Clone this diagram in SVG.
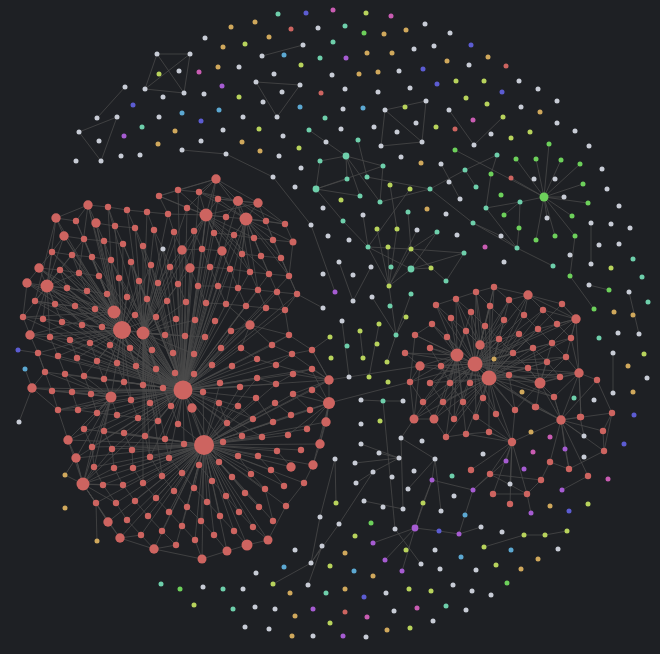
<svg xmlns="http://www.w3.org/2000/svg" width="660" height="654" viewBox="0 0 660 654">
<style>
.e{fill:none;stroke:#4b4b4b;stroke-width:.75}
.r circle{fill:#cd6460}.w circle{fill:#c8ccd6}.t circle{fill:#6ecfab}.g circle{fill:#6dd05b}.y circle{fill:#b8d35c}.o circle{fill:#d0a85c}.b circle{fill:#5c5cd2}.p circle{fill:#a65cd2}.m circle{fill:#c95cb2}.l circle{fill:#5ca8d2}
.s circle{r:2.5px}
</style>
<rect width="660" height="654" fill="#1e2024"/>
<g id="connectors" class="e">
<path d="M183 390L216 179M183 390L178 190M183 390L199 192M183 390L218 199M183 390L238 201M183 390L206 215M183 390L226 217M183 390L246 219M183 390L187 208M183 390L174 232M183 390L194 231M183 390L214 233M183 390L234 235M183 390L154 230M183 390L135 228M183 390L182 250M183 390L202 249M183 390L222 251M183 390L163 249M183 390L143 246M183 390L123 244M183 390L170 267M183 390L190 268M183 390L210 267M183 390L230 269M183 390L151 265M183 390L131 262M183 390L111 260M183 390L92 257M183 390L158 283M183 390L178 284M183 390L198 286M183 390L218 286M183 390L139 281M183 390L119 278M183 390L99 276M183 390L79 273M183 390L60 270M183 390L39 268M183 390L147 299M183 390L167 301M183 390L186 302M183 390L206 303M183 390L226 304M183 390L127 297M183 390L107 294M183 390L87 291M183 390L67 288M183 390L47 286M183 390L27 283M183 390L135 315M183 390L156 317M183 390L176 319M183 390L195 320M183 390L215 321M183 390L114 312M183 390L95 309M183 390L75 306M183 390L55 304M183 390L35 301M183 390L23 317M183 390L43 319M183 390L62 322M183 390L82 325M183 390L102 327M183 390L122 330M183 390L143 333M183 390L165 335M183 390L185 336M183 390L205 337M183 390L231 331M183 390L250 325M183 390L30 335M183 390L50 337M183 390L70 340M183 390L90 343M183 390L110 345M183 390L130 348M183 390L152 350M183 390L173 353M183 390L194 354M183 390L221 348M183 390L241 348M183 390L38 353M183 390L58 356M183 390L77 358M183 390L97 361M183 390L117 363M183 390L136 366M183 390L156 369M183 390L212 365M183 390L232 366M183 390L45 372M183 390L65 374M183 390L84 376M183 390L104 379M183 390L124 382M183 390L143 385M183 390L163 388M183 390L175 373M183 390L194 374M183 390L220 383M183 390L240 387M183 390L257 378M183 390L276 384M183 390L32 388M183 390L52 391M183 390L72 392M183 390L91 394M183 390L111 397M183 390L131 400M183 390L150 403M183 390L171 406M183 390L203 392M183 390L219 403M183 390L238 406M183 390L256 398M183 390L58 410M183 390L78 410M183 390L97 413M183 390L117 415M183 390L138 418M183 390L158 421M183 390L178 424M183 390L192 408M183 390L227 423M183 390L253 419M183 390L104 431M183 390L124 433M183 390L145 436M183 390L165 439M183 390L184 444M183 390L223 442M183 390L242 436M183 390L262 437M183 390L68 440M183 390L92 447M183 390L112 449M183 390L132 450M183 390L150 457M183 390L169 458M183 390L199 465M183 390L219 462M183 390L83 484M183 390L76 458M183 390L266 308M183 390L285 310M183 390L246 306M183 390L258 290M183 390L277 292M183 390L297 294M183 390L269 274M183 390L289 276M183 390L250 272M183 390L293 374M183 390L312 369M183 390L329 380M183 390L289 335M183 390L272 345M183 390L257 359M183 390L292 354M183 390L276 365"/>
<path d="M204 445L183 390M204 445L192 408M204 445L178 424M204 445L184 444M204 445L165 439M204 445L169 458M204 445L150 457M204 445L162 476M204 445L182 473M204 445L199 465M204 445L219 462M204 445L223 442M204 445L227 423M204 445L219 403M204 445L203 392M204 445L238 406M204 445L242 436M204 445L238 456M204 445L258 456M204 445L262 437M204 445L253 419M204 445L273 422M204 445L277 451M204 445L288 435M204 445L307 429M204 445L301 450M204 445L291 467M204 445L313 465M204 445L320 444M204 445L326 422M204 445L304 483M204 445L284 486M204 445L265 489M204 445L271 470M204 445L251 474M204 445L245 493M204 445L232 477M204 445L226 496M204 445L212 481M204 445L207 502M204 445L194 488M204 445L174 491M204 445L187 507M204 445L169 512M204 445L182 526M204 445L201 521M204 445L220 516M204 445L239 512M204 445L259 507M204 445L286 506M204 445L273 521M204 445L253 527M204 445L234 531M204 445L214 535M204 445L195 540M204 445L176 545M204 445L162 531M204 445L154 549M204 445L202 559M204 445L227 551M204 445L247 545M204 445L268 540M204 445L148 516M204 445L156 498M204 445L135 501M204 445L143 483M204 445L133 468M204 445L114 468M204 445L123 485M204 445L103 485M204 445L83 484M204 445L94 467M204 445L112 449M204 445L132 450M204 445L145 436M204 445L124 433M204 445L108 522M204 445L127 520M204 445L141 535M204 445L120 538M204 445L116 503M204 445L96 503M204 445L76 458M204 445L92 447M204 445L68 440M204 445L104 431M204 445L84 429M204 445L256 398M204 445L275 403M204 445L291 415M204 445L310 410M204 445L329 403M204 445L312 390M204 445L293 394M204 445L329 380M204 445L240 387M204 445L220 383M204 445L257 378M204 445L276 384"/>
<path d="M122 330L47 286M122 330L67 288M122 330L87 291M122 330L107 294M122 330L127 297M122 330L147 299M122 330L99 276M122 330L119 278M122 330L139 281M122 330L79 273M122 330L60 270M122 330L39 268M122 330L27 283M122 330L35 301M122 330L55 304M122 330L75 306M122 330L95 309M122 330L114 312M122 330L135 315M122 330L156 317M122 330L43 319M122 330L62 322M122 330L82 325M122 330L102 327M122 330L143 333M122 330L165 335M122 330L30 335M122 330L50 337M122 330L70 340M122 330L90 343M122 330L110 345M122 330L130 348M122 330L152 350M122 330L38 353M122 330L58 356M122 330L77 358M122 330L97 361M122 330L117 363M122 330L136 366M122 330L84 376M122 330L104 379M122 330L124 382M122 330L143 385M122 330L111 397M122 330L131 400M122 330L92 257M122 330L111 260M122 330L131 262M122 330L151 265M122 330L123 244M122 330L104 241M122 330L84 239M122 330L64 236M122 330L52 252M122 330L72 255M122 330L96 223M122 330L88 205M122 330L56 218M122 330L115 226"/>
<path d="M143 333L206 215M143 333L187 208M143 333L168 214M143 333L147 212M143 333L127 210M143 333L108 207M143 333L135 228M143 333L154 230M143 333L174 232M143 333L143 246M143 333L163 249M143 333L182 250M143 333L131 262M143 333L151 265M143 333L170 267M143 333L190 268M143 333L139 281M143 333L158 283M143 333L178 284M143 333L147 299M143 333L167 301M143 333L186 302M143 333L156 317M143 333L176 319M143 333L195 320M143 333L165 335M143 333L185 336M143 333L205 337M143 333L152 350M143 333L173 353M143 333L194 354M143 333L136 366M143 333L156 369M143 333L143 385M143 333L163 388M143 333L150 403M143 333L171 406M143 333L158 421M143 333L145 436M143 333L165 439M143 333L150 457M143 333L162 476M143 333L143 483"/>
<path d="M114 312L108 207M114 312L88 205M114 312L76 221M114 312L96 223M114 312L104 241M114 312L84 239M114 312L64 236M114 312L92 257M114 312L72 255M114 312L52 252M114 312L99 276M114 312L79 273M114 312L60 270M114 312L39 268M114 312L27 283M114 312L47 286M114 312L23 317M114 312L30 335M114 312L35 301M47 286L27 283M47 286L39 268M47 286L64 236M47 286L56 218M47 286L52 252M47 286L60 270M47 286L67 288M47 286L35 301M47 286L55 304M47 286L23 317M47 286L30 335M47 286L43 319M47 286L75 306M47 286L72 255M47 286L84 239M47 286L79 273M47 286L87 291M47 286L62 322M47 286L50 337"/>
<path d="M206 215L216 179M206 215L178 190M206 215L199 192M206 215L218 199M206 215L258 203M206 215L226 217M206 215L266 221M206 215L254 238M206 215L234 235M206 215L214 233M206 215L194 231M206 215L242 254M206 215L222 251M206 215L202 249M206 215L230 269M206 215L250 272M206 215L269 274M206 215L159 196M206 215L168 214M246 219L216 179M246 219L238 201M246 219L258 203M246 219L285 224M246 219L266 221M246 219L273 240M246 219L293 242M246 219L254 238M246 219L234 235M246 219L261 256M246 219L281 258M246 219L242 254M246 219L222 251M246 219L289 276M246 219L269 274M246 219L199 192M246 219L218 199M238 201L199 192M238 201L218 199M238 201L258 203M238 201L226 217M238 201L266 221M238 201L285 224"/>
<path d="M111 397L32 388M111 397L52 391M111 397L72 392M111 397L91 394M111 397L58 410M111 397L78 410M111 397L97 413M111 397L117 415M111 397L84 429M111 397L104 431M111 397L68 440M111 397L92 447M111 397L76 458M111 397L94 467M111 397L83 484M111 397L45 372M111 397L65 374M111 397L84 376M111 397L104 379M111 397L124 382M83 484L68 440M83 484L76 458M83 484L94 467M83 484L114 468M83 484L103 485M83 484L123 485M83 484L96 503M83 484L116 503M83 484L108 522M83 484L120 538M83 484L65 475M83 484L92 447M83 484L112 449M329 403L312 371M329 403L312 390M329 403L310 410M329 403L326 422M329 403L293 394M329 403L307 429M329 403L313 465M329 403L320 444M329 403L291 415M329 403L288 435M329 380L312 350M329 380L312 369M329 380L293 374M329 380L292 354M329 380L276 365M329 380L312 390M329 380L293 394"/>
<path d="M216 179L178 190M216 179L199 192M216 179L238 201M216 179L258 203M216 179L159 196M159 196L178 190M159 196L168 214M159 196L187 208M178 190L199 192M199 192L218 199M218 199L238 201M238 201L258 203M258 203L285 224M285 224L293 242M293 242L289 276M289 276L297 294M297 294L285 310M88 205L108 207M108 207L127 210M127 210L147 212M147 212L168 214M88 205L56 218M56 218L64 236M64 236L52 252M52 252L39 268M39 268L27 283M27 283L23 317M23 317L30 335M30 335L38 353M38 353L45 372M45 372L32 388M32 388L58 410M58 410L68 440M68 440L76 458M76 458L83 484M83 484L96 503M96 503L108 522M108 522L120 538M120 538L154 549M154 549L202 559M202 559L227 551M227 551L247 545M247 545L268 540M268 540L286 506M286 506L304 483M304 483L313 465M313 465L320 444M320 444L326 422M326 422L329 403M329 403L329 380M329 380L312 350M312 350L289 335M289 335L285 310M88 205L76 221M88 205L96 223M96 223L115 226M115 226L135 228M56 218L76 221M76 221L84 239M84 239L104 241M104 241L123 244M64 236L84 239M52 252L72 255M72 255L92 257M92 257L111 260M39 268L60 270M60 270L79 273M79 273L99 276M67 288L87 291M87 291L107 294M35 301L55 304M55 304L75 306M23 317L43 319M43 319L62 322M30 335L50 337M50 337L70 340M206 215L187 208M214 233L234 235M234 235L254 238M254 238L273 240M273 240L293 242M242 254L261 256M261 256L281 258M182 250L202 249M202 249L222 251M190 268L210 267M210 267L230 269M230 269L250 272M250 272L269 274M269 274L289 276M198 286L218 286M218 286L238 288M238 288L258 290M258 290L277 292M277 292L297 294M206 303L226 304M226 304L246 306M246 306L266 308M266 308L285 310M250 325L231 331M250 325L266 308M250 325L272 345M241 348L257 359M257 359L276 365M276 365L292 354M292 354L312 350M312 369L293 374M293 374L276 384M276 384L257 378M231 331L221 348M250 325L241 348M250 325L226 304M250 325L289 335M272 345L289 335M272 345L292 354M281 258L297 294M266 221L285 224M266 221L273 240M154 549L176 545M120 538L141 535M96 503L97 541M76 458L65 475M32 388L19 422M38 353L18 350M32 388L25 369"/>
<path d="M108 207L115 226M127 210L135 228M147 212L154 230M168 214L174 232M96 223L104 241M115 226L123 244M135 228L143 246M154 230L163 249M174 232L182 250M194 231L202 249M214 233L222 251M234 235L242 254M254 238L261 256M273 240L281 258M84 239L92 257M104 241L111 260M123 244L131 262M143 246L151 265M163 249L170 267M182 250L190 268M202 249L210 267M222 251L230 269M242 254L250 272M261 256L269 274M281 258L289 276M72 255L79 273M92 257L99 276M111 260L119 278M131 262L139 281M151 265L158 283M170 267L178 284M190 268L198 286M210 267L218 286M230 269L238 288M250 272L258 290M269 274L277 292M60 270L67 288M79 273L87 291M99 276L107 294M119 278L127 297M139 281L147 299M158 283L167 301M178 284L186 302M198 286L206 303M218 286L226 304M238 288L246 306M258 290L266 308M277 292L285 310M246 219L238 288M246 219L258 290M246 219L226 304M206 215L178 284M206 215L198 286M206 215L158 283M238 201L250 272M258 203L289 276M216 179L187 208M88 205L79 273M56 218L35 301M47 286L82 325M84 429L92 447M104 431L112 449M124 433L132 450M145 436L150 457M165 439L169 458M92 447L94 467M112 449L114 468M132 450L133 468M150 457L162 476M169 458L182 473M199 465L212 481M219 462L232 477M238 456L251 474M258 456L271 470M277 451L291 467M94 467L103 485M114 468L123 485M133 468L143 483M162 476L174 491M182 473L194 488M212 481L226 496M232 477L245 493M251 474L265 489M271 470L284 486M103 485L116 503M123 485L135 501M143 483L156 498M174 491L187 507M194 488L207 502M226 496L239 512M245 493L259 507M265 489L273 521M116 503L127 520M135 501L148 516M156 498L169 512M187 507L201 521M207 502L220 516M239 512L253 527M127 520L141 535M148 516L162 531M169 512L182 526M201 521L214 535M220 516L234 531M253 527L268 540M141 535L154 549M182 526L195 540M214 535L227 551M234 531L247 545M195 540L202 559M162 531L176 545M58 410L78 410M78 410L97 413M97 413L117 415M117 415L138 418M138 418L158 421M52 391L58 410M72 392L78 410M91 394L97 413M131 400L138 418M150 403L158 421M171 406L178 424M219 403L227 423M238 406L253 419M256 398L273 422M275 403L291 415M293 394L310 410M45 372L52 391M65 374L72 392M84 376L91 394M104 379L111 397M124 382L131 400M143 385L150 403M163 388L171 406M38 353L45 372M58 356L65 374M77 358L84 376M97 361L104 379M117 363L124 382M136 366L143 385M156 369L163 388M50 337L58 356M70 340L77 358M90 343L97 361M110 345L117 363M130 348L136 366M152 350L156 369"/>
<path d="M475 364L476 292M475 364L494 287M475 364L456 299M475 364L436 305M475 364L528 295M475 364L509 300M475 364L471 312M475 364L490 306M475 364L543 310M475 364L524 315M475 364L451 318M475 364L504 320M475 364L432 324M475 364L485 326M475 364L538 329M475 364L557 324M475 364L415 335M475 364L466 331M475 364L519 334M475 364L447 337M475 364L499 339M475 364L571 338M475 364L480 345M475 364L552 343M475 364L430 348M475 364L533 348M475 364L457 355M475 364L513 353M475 364L566 357M475 364L420 366M475 364L547 362M475 364L441 366M475 364L528 368M475 364L489 378M475 364L509 375M475 364L579 373M475 364L410 382M475 364L430 383M475 364L450 383M475 364L470 383M475 364L540 383M475 364L560 377M475 364L483 398M475 364L443 402M475 364L463 402M475 364L423 402M475 364L554 397M475 364L536 407M475 364L515 410M475 364L414 419M475 364L434 419M475 364L454 419M475 364L476 417M475 364L496 414M475 364L405 353M475 364L576 319"/>
<path d="M489 378L476 292M489 378L494 287M489 378L528 295M489 378L509 300M489 378L562 304M489 378L490 306M489 378L543 310M489 378L524 315M489 378L504 320M489 378L485 326M489 378L538 329M489 378L519 334M489 378L499 339M489 378L571 338M489 378L480 345M489 378L552 343M489 378L533 348M489 378L513 353M489 378L566 357M489 378L547 362M489 378L528 368M489 378L509 375M489 378L579 373M489 378L540 383M489 378L560 377M489 378L483 398M489 378L463 402M489 378L554 397M489 378L536 407M489 378L515 410M489 378L454 419M489 378L476 417M489 378L496 414M489 378L489 432M489 378L466 434M489 378L446 437M489 378L512 442M489 378L561 420M489 378L443 402M489 378L470 383M489 378L450 383M489 378L430 383M489 378L441 366M489 378L420 366M489 378L434 419M489 378L414 419"/>
<path d="M457 355L436 305M457 355L456 299M457 355L471 312M457 355L451 318M457 355L432 324M457 355L466 331M457 355L447 337M457 355L415 335M457 355L430 348M457 355L405 353M457 355L420 366M457 355L441 366M457 355L410 382M457 355L430 383M457 355L450 383M457 355L470 383M457 355L423 402M457 355L443 402M457 355L463 402M457 355L414 419M457 355L434 419M457 355L454 419M457 355L446 437M457 355L466 434M480 345L476 292M480 345L494 287M480 345L456 299M480 345L471 312M480 345L490 306M480 345L509 300M480 345L504 320M480 345L485 326M480 345L466 331M480 345L499 339M480 345L519 334M480 345L513 353"/>
<path d="M540 383L509 375M540 383L528 368M540 383L547 362M540 383L560 377M540 383L579 373M540 383L554 397M540 383L536 407M540 383L515 410M540 383L561 420M540 383L566 357M540 383L552 343M540 383L533 348M576 319L528 295M576 319L562 304M576 319L543 310M576 319L557 324M576 319L571 338M576 319L552 343M576 319L566 357M576 319L538 329M576 319L579 373M579 373L566 357M579 373L571 338M579 373L560 377M579 373L554 397M579 373L561 420M579 373L581 417M579 373L597 380M561 420L580 417M561 420L612 413M561 420L603 431M561 420L569 469M561 420L588 476M561 420L550 462M561 420L565 449M561 420L535 407M561 420L584 436M561 420L554 397M561 420L536 407M561 420L604 451M561 420L597 380M512 442L515 410M512 442L471 470M512 442L490 474M512 442L493 494M512 442L510 484M512 442L527 494M512 442L510 504M512 442L506 461M512 442L496 414M512 442L488 432M512 442L466 434M512 442L476 417M436 305L476 292M476 292L494 287M494 287L528 295M528 295L562 304M562 304L576 319M432 324L415 335M415 335L410 382M410 382L414 419M414 419L434 419M434 419L446 437M446 437L466 434M466 434L489 432M489 432L512 442M512 442L561 420M581 417L579 373M420 366L414 419M420 366L410 382M528 295L509 300M528 295L543 310M528 295L524 315M597 380L612 413M580 417L584 436M603 431L604 451M612 413L603 431M604 451L612 413M604 451L569 469M588 476L562 490M569 469L565 449M541 480L490 474M550 462L541 480M527 494L541 480M550 462L569 469M493 494L527 494M527 494L531 513M490 474L527 494M473 490L490 474M473 490L506 461M414 419L401 438M420 366L405 353M329 380L420 366M312 350L330 337M329 403L410 382M297 294L323 308"/>
<path d="M436 305L451 318M456 299L471 312M476 292L490 306M494 287L509 300M509 300L524 315M543 310L557 324M451 318L466 331M471 312L485 326M490 306L504 320M524 315L538 329M432 324L447 337M466 331L480 345M485 326L499 339M519 334L533 348M538 329L552 343M557 324L571 338M447 337L457 355M499 339L513 353M533 348L547 362M552 343L566 357M430 348L441 366M513 353L528 368M547 362L560 377M441 366L450 383M528 368L540 383M410 382L423 402M430 383L443 402M450 383L463 402M470 383L483 398M509 375L515 410M423 402L434 419M443 402L454 419M463 402L476 417M483 398L496 414M554 397L561 420"/>
<path d="M157 54L190 54M157 54L145 89M157 54L184 93M190 54L145 89M190 54L184 93M145 89L184 93M125 87L97 118M117 117L79 132M117 117L101 161M79 132L101 161M262 56L303 45M256 82L300 85M256 82L277 117M300 85L277 117M182 150L226 154M226 154L273 177M273 177L311 225M311 225L335 292M309 130L326 142M326 142L346 156M320 161L316 189M346 156L320 161M346 156L383 166M346 156L347 179M346 156L360 196M346 156L380 202M316 189L347 179M316 189L383 166M316 189L360 196M316 189L343 221M358 140L367 177M367 177L430 189M383 166L380 202M380 202L430 189M390 185L397 229M410 189L368 247M430 189L465 170M465 170L497 155M465 170L476 187M430 189L473 223M473 223L501 236M441 164L460 199M497 155L491 174M491 174L486 208M486 208L520 202M486 208L517 248M520 202L519 228M519 228L517 248M504 215L520 202M520 202L544 197M511 178L544 197M455 150L544 197M385 110L426 101M385 110L381 146M385 110L422 142M426 101L422 142M381 146L422 142M449 110L474 145M503 117L474 145M544 197L549 144M544 197L536 159M544 197L561 160M544 197L580 164M544 197L583 184M544 197L588 203M544 197L572 216M544 197L564 197M544 197L547 218M544 197L555 236M544 197L536 240M544 197L575 236M544 197L516 159"/>
<path d="M411 249L408 212M411 249L437 232M411 249L464 253M411 249L446 281M411 249L389 286M411 249L431 268M411 249L368 247M389 286L377 229M389 286L397 229M389 286L368 247M343 221L368 247M363 215L368 247M368 247L411 269M388 247L389 286M417 230L389 286M437 232L411 269M464 253L446 281M464 253L411 269M431 268L411 269M411 269L389 286M339 262L353 301M371 267L353 301M389 286L396 335M396 335L406 317M396 335L387 362M396 335L411 294M372 297L396 335M342 321L349 377M379 324L369 377M360 331L363 358M553 266L517 248M517 248L501 236M570 276L575 236M570 276L594 309M589 285L609 290M591 223L591 264M629 292L639 334M613 353L613 393M473 223L517 248M432 480L473 490M432 480L415 528M432 480L435 459M435 459L441 511M435 459L408 489M401 438L435 459M401 438L403 509M379 453L399 458M355 463L399 458M373 472L399 458M356 483L373 472M364 501L403 509M361 444L399 458M335 459L336 503M383 401L395 529M339 524L373 472M395 529L421 564M415 528L373 543M415 528L385 560M415 528L402 571M415 528L439 531M439 531L459 534M459 534L481 527M459 534L465 515M465 515L473 490M415 528L423 503M423 503L432 480M484 547L524 535M524 535L545 535M545 535L567 531M273 584L311 563M311 563L322 546M320 517L311 563M335 459L320 517M339 524L311 563M322 546L308 585M361 400L383 401M383 401L403 401"/>
</g>
<g id="cluster-left" class="r">
<circle id="L1" cx="216" cy="179" r="4.7"/><circle id="L2" cx="159" cy="196" r="3.2"/><circle id="L3" cx="178" cy="190" r="3.2"/><circle id="L4" cx="199" cy="192" r="3.2"/><circle id="L5" cx="218" cy="199" r="3.2"/><circle id="L6" cx="238" cy="201" r="5"/><circle id="L7" cx="258" cy="203" r="4.7"/><circle id="L8" cx="88" cy="205" r="4.7"/><circle id="L9" cx="108" cy="207" r="3.2"/><circle id="L10" cx="127" cy="210" r="3.2"/><circle id="L11" cx="147" cy="212" r="3.2"/><circle id="L12" cx="168" cy="214" r="3.2"/><circle id="L13" cx="187" cy="208" r="3.2"/><circle id="L14" cx="206" cy="215" r="6.5"/><circle id="L15" cx="226" cy="217" r="3.2"/><circle id="L16" cx="246" cy="219" r="6.5"/><circle id="L17" cx="266" cy="221" r="3.2"/><circle id="L18" cx="285" cy="224" r="3.2"/>
<circle id="L19" cx="56" cy="218" r="4.7"/><circle id="L20" cx="76" cy="221" r="3.2"/><circle id="L21" cx="96" cy="223" r="4.7"/><circle id="L22" cx="115" cy="226" r="3.2"/><circle id="L23" cx="135" cy="228" r="3.2"/><circle id="L24" cx="154" cy="230" r="3.2"/><circle id="L25" cx="174" cy="232" r="3.2"/><circle id="L26" cx="194" cy="231" r="3.2"/><circle id="L27" cx="214" cy="233" r="3.2"/><circle id="L28" cx="234" cy="235" r="3.2"/><circle id="L29" cx="254" cy="238" r="3.2"/><circle id="L30" cx="273" cy="240" r="3.2"/><circle id="L31" cx="293" cy="242" r="3.5"/>
<circle id="L32" cx="64" cy="236" r="4.7"/><circle id="L33" cx="84" cy="239" r="3.2"/><circle id="L34" cx="104" cy="241" r="3.2"/><circle id="L35" cx="123" cy="244" r="3.2"/><circle id="L36" cx="143" cy="246" r="3.2"/><circle id="L37" cx="182" cy="250" r="4.7"/><circle id="L38" cx="202" cy="249" r="3.2"/><circle id="L39" cx="222" cy="251" r="4.7"/><circle id="L40" cx="242" cy="254" r="3.2"/><circle id="L41" cx="261" cy="256" r="3.2"/><circle id="L42" cx="281" cy="258" r="3.2"/>
<circle id="L43" cx="52" cy="252" r="3.2"/><circle id="L44" cx="72" cy="255" r="3.2"/><circle id="L45" cx="92" cy="257" r="3.2"/><circle id="L46" cx="111" cy="260" r="3.2"/><circle id="L47" cx="131" cy="262" r="3.2"/><circle id="L48" cx="151" cy="265" r="3.2"/><circle id="L49" cx="170" cy="267" r="3.2"/><circle id="L50" cx="190" cy="268" r="4.7"/><circle id="L51" cx="210" cy="267" r="3.2"/><circle id="L52" cx="230" cy="269" r="3.2"/><circle id="L53" cx="250" cy="272" r="3.2"/><circle id="L54" cx="269" cy="274" r="3.2"/><circle id="L55" cx="289" cy="276" r="3.2"/>
<circle id="L56" cx="39" cy="268" r="4.7"/><circle id="L57" cx="60" cy="270" r="3.2"/><circle id="L58" cx="79" cy="273" r="3.2"/><circle id="L59" cx="99" cy="276" r="3.2"/><circle id="L60" cx="119" cy="278" r="3.2"/><circle id="L61" cx="139" cy="281" r="3.2"/><circle id="L62" cx="158" cy="283" r="3.2"/><circle id="L63" cx="178" cy="284" r="3.2"/><circle id="L64" cx="198" cy="286" r="3.2"/><circle id="L65" cx="218" cy="286" r="3.2"/><circle id="L66" cx="238" cy="288" r="3.2"/><circle id="L67" cx="258" cy="290" r="3.2"/><circle id="L68" cx="277" cy="292" r="3.2"/><circle id="L69" cx="297" cy="294" r="3.2"/>
<circle id="L70" cx="27" cy="283" r="4.7"/><circle id="L71" cx="47" cy="286" r="6.5"/><circle id="L72" cx="67" cy="288" r="3.2"/><circle id="L73" cx="87" cy="291" r="3.2"/><circle id="L74" cx="107" cy="294" r="3.2"/><circle id="L75" cx="127" cy="297" r="3.2"/><circle id="L76" cx="147" cy="299" r="3.2"/><circle id="L77" cx="167" cy="301" r="3.2"/><circle id="L78" cx="186" cy="302" r="3.2"/><circle id="L79" cx="206" cy="303" r="3.2"/><circle id="L80" cx="226" cy="304" r="3.2"/><circle id="L81" cx="246" cy="306" r="3.2"/><circle id="L82" cx="266" cy="308" r="3.2"/><circle id="L83" cx="285" cy="310" r="3.2"/>
<circle id="L84" cx="35" cy="301" r="3.2"/><circle id="L85" cx="55" cy="304" r="3.2"/><circle id="L86" cx="75" cy="306" r="3.2"/><circle id="L87" cx="95" cy="309" r="3.2"/><circle id="L88" cx="114" cy="312" r="6.5"/><circle id="L89" cx="135" cy="315" r="3.2"/><circle id="L90" cx="156" cy="317" r="3.2"/><circle id="L91" cx="176" cy="319" r="3.2"/><circle id="L92" cx="195" cy="320" r="3.2"/><circle id="L93" cx="215" cy="321" r="3.2"/><circle id="L94" cx="250" cy="325" r="4.7"/>
<circle id="L95" cx="23" cy="317" r="3.2"/><circle id="L96" cx="43" cy="319" r="3.2"/><circle id="L97" cx="62" cy="322" r="3.2"/><circle id="L98" cx="82" cy="325" r="3.2"/><circle id="L99" cx="102" cy="327" r="3.2"/><circle id="L100" cx="122" cy="330" r="9"/><circle id="L101" cx="143" cy="333" r="6.5"/><circle id="L102" cx="165" cy="335" r="3.2"/><circle id="L103" cx="185" cy="336" r="3.2"/><circle id="L104" cx="205" cy="337" r="3.2"/><circle id="L105" cx="231" cy="331" r="3.2"/>
<circle id="L106" cx="30" cy="335" r="4.7"/><circle id="L107" cx="50" cy="337" r="3.2"/><circle id="L108" cx="70" cy="340" r="3.2"/><circle id="L109" cx="90" cy="343" r="3.2"/><circle id="L110" cx="110" cy="345" r="3.2"/><circle id="L111" cx="130" cy="348" r="3.2"/><circle id="L112" cx="152" cy="350" r="3.2"/><circle id="L113" cx="173" cy="353" r="3.2"/><circle id="L114" cx="194" cy="354" r="3.2"/><circle id="L115" cx="221" cy="348" r="3.2"/><circle id="L116" cx="241" cy="348" r="3.2"/>
<circle id="L117" cx="38" cy="353" r="3.2"/><circle id="L118" cx="58" cy="356" r="3.2"/><circle id="L119" cx="77" cy="358" r="3.2"/><circle id="L120" cx="97" cy="361" r="3.2"/><circle id="L121" cx="117" cy="363" r="3.2"/><circle id="L122" cx="136" cy="366" r="3.2"/><circle id="L123" cx="156" cy="369" r="3.2"/><circle id="L124" cx="212" cy="365" r="3.2"/><circle id="L125" cx="232" cy="366" r="3.2"/><circle id="L126" cx="289" cy="335" r="3.2"/><circle id="L127" cx="272" cy="345" r="3.2"/><circle id="L128" cx="312" cy="350" r="3.2"/><circle id="L129" cx="292" cy="354" r="3.2"/><circle id="L130" cx="257" cy="359" r="3.2"/><circle id="L131" cx="276" cy="365" r="3.2"/><circle id="L132" cx="312" cy="369" r="3.2"/>
<circle id="L133" cx="45" cy="372" r="3.2"/><circle id="L134" cx="65" cy="374" r="3.2"/><circle id="L135" cx="84" cy="376" r="3.2"/><circle id="L136" cx="104" cy="379" r="3.2"/><circle id="L137" cx="124" cy="382" r="3.2"/><circle id="L138" cx="143" cy="385" r="3.2"/><circle id="L139" cx="163" cy="388" r="3.2"/><circle id="L140" cx="175" cy="373" r="3.2"/><circle id="L141" cx="194" cy="374" r="3.2"/><circle id="L142" cx="220" cy="383" r="3.2"/><circle id="L143" cx="240" cy="387" r="3.2"/><circle id="L144" cx="257" cy="378" r="3.2"/><circle id="L145" cx="276" cy="384" r="3.2"/><circle id="L146" cx="293" cy="374" r="3.2"/>
<circle id="L147" cx="32" cy="388" r="4.7"/><circle id="L148" cx="52" cy="391" r="3.2"/><circle id="L149" cx="72" cy="392" r="3.2"/><circle id="L150" cx="91" cy="394" r="3.2"/><circle id="L151" cx="111" cy="397" r="5.5"/><circle id="L152" cx="131" cy="400" r="3.2"/><circle id="L153" cx="150" cy="403" r="3.2"/><circle id="L154" cx="171" cy="406" r="3.2"/><circle id="L155" cx="203" cy="392" r="3.2"/><circle id="L156" cx="219" cy="403" r="3.2"/><circle id="L157" cx="238" cy="406" r="3.2"/><circle id="L158" cx="256" cy="398" r="3.2"/><circle id="L159" cx="275" cy="403" r="3.2"/><circle id="L160" cx="293" cy="394" r="3.2"/><circle id="L161" cx="312" cy="390" r="3.2"/><circle id="L162" cx="329" cy="380" r="4.7"/><circle id="L163" cx="329" cy="403" r="6"/>
<circle id="L164" cx="58" cy="410" r="3.2"/><circle id="L165" cx="78" cy="410" r="3.2"/><circle id="L166" cx="97" cy="413" r="3.2"/><circle id="L167" cx="117" cy="415" r="3.2"/><circle id="L168" cx="138" cy="418" r="3.2"/><circle id="L169" cx="158" cy="421" r="3.2"/><circle id="L170" cx="178" cy="424" r="3.2"/><circle id="L171" cx="192" cy="408" r="4.7"/><circle id="L172" cx="227" cy="423" r="3.2"/><circle id="L173" cx="253" cy="419" r="3.2"/><circle id="L174" cx="273" cy="422" r="3.2"/><circle id="L175" cx="291" cy="415" r="3.2"/><circle id="L176" cx="310" cy="410" r="3.2"/><circle id="L177" cx="326" cy="422" r="4.7"/>
<circle id="L178" cx="84" cy="429" r="3.2"/><circle id="L179" cx="104" cy="431" r="3.2"/><circle id="L180" cx="124" cy="433" r="3.2"/><circle id="L181" cx="145" cy="436" r="3.2"/><circle id="L182" cx="165" cy="439" r="3.2"/><circle id="L183" cx="184" cy="444" r="3.2"/><circle id="L184" cx="223" cy="442" r="3.2"/><circle id="L185" cx="242" cy="436" r="3.2"/><circle id="L186" cx="262" cy="437" r="3.2"/><circle id="L187" cx="288" cy="435" r="3.2"/><circle id="L188" cx="307" cy="429" r="3.2"/><circle id="L189" cx="320" cy="444" r="4.7"/>
<circle id="L190" cx="68" cy="440" r="4.7"/><circle id="L191" cx="92" cy="447" r="3.2"/><circle id="L192" cx="112" cy="449" r="3.2"/><circle id="L193" cx="132" cy="450" r="3.2"/><circle id="L194" cx="150" cy="457" r="3.2"/><circle id="L195" cx="169" cy="458" r="3.2"/><circle id="L196" cx="199" cy="465" r="3.2"/><circle id="L197" cx="219" cy="462" r="3.2"/><circle id="L198" cx="238" cy="456" r="3.2"/><circle id="L199" cx="258" cy="456" r="3.2"/><circle id="L200" cx="277" cy="451" r="3.2"/><circle id="L201" cx="301" cy="450" r="3.2"/>
<circle id="L202" cx="76" cy="458" r="4.7"/><circle id="L203" cx="94" cy="467" r="3.2"/><circle id="L204" cx="114" cy="468" r="3.2"/><circle id="L205" cx="133" cy="468" r="3.2"/><circle id="L206" cx="162" cy="476" r="3.2"/><circle id="L207" cx="182" cy="473" r="3.2"/><circle id="L208" cx="212" cy="481" r="3.2"/><circle id="L209" cx="232" cy="477" r="3.2"/><circle id="L210" cx="251" cy="474" r="3.2"/><circle id="L211" cx="271" cy="470" r="3.2"/><circle id="L212" cx="291" cy="467" r="4.7"/><circle id="L213" cx="313" cy="465" r="4.7"/><circle id="L214" cx="304" cy="483" r="3.2"/>
<circle id="L215" cx="83" cy="484" r="6.5"/><circle id="L216" cx="103" cy="485" r="3.2"/><circle id="L217" cx="123" cy="485" r="3.2"/><circle id="L218" cx="143" cy="483" r="3.2"/><circle id="L219" cx="174" cy="491" r="3.2"/><circle id="L220" cx="194" cy="488" r="3.2"/><circle id="L221" cx="226" cy="496" r="3.2"/><circle id="L222" cx="245" cy="493" r="3.2"/><circle id="L223" cx="265" cy="489" r="3.2"/><circle id="L224" cx="284" cy="486" r="3.2"/>
<circle id="L225" cx="96" cy="503" r="3.2"/><circle id="L226" cx="116" cy="503" r="3.2"/><circle id="L227" cx="135" cy="501" r="3.2"/><circle id="L228" cx="156" cy="498" r="3.2"/><circle id="L229" cx="169" cy="512" r="3.2"/><circle id="L230" cx="207" cy="502" r="3.2"/><circle id="L231" cx="187" cy="507" r="3.2"/><circle id="L232" cx="239" cy="512" r="3.2"/><circle id="L233" cx="259" cy="507" r="3.2"/><circle id="L234" cx="286" cy="506" r="3.2"/>
<circle id="L235" cx="108" cy="522" r="4.7"/><circle id="L236" cx="127" cy="520" r="3.2"/><circle id="L237" cx="148" cy="516" r="3.2"/><circle id="L238" cx="162" cy="531" r="3.2"/><circle id="L239" cx="220" cy="516" r="3.2"/><circle id="L240" cx="201" cy="521" r="3.2"/><circle id="L241" cx="182" cy="526" r="3.2"/><circle id="L242" cx="253" cy="527" r="3.2"/><circle id="L243" cx="273" cy="521" r="3.2"/>
<circle id="L244" cx="120" cy="538" r="4.7"/><circle id="L245" cx="141" cy="535" r="3.2"/><circle id="L246" cx="176" cy="545" r="3.2"/><circle id="L247" cx="234" cy="531" r="3.2"/><circle id="L248" cx="214" cy="535" r="3.2"/><circle id="L249" cx="195" cy="540" r="3.2"/><circle id="L250" cx="154" cy="549" r="4.7"/><circle id="L251" cx="247" cy="545" r="5.5"/><circle id="L252" cx="268" cy="540" r="4.5"/><circle id="L253" cx="227" cy="551" r="4.5"/><circle id="L254" cx="202" cy="559" r="4.5"/>
<circle id="L255" cx="183" cy="390" r="9.5"/><circle id="L256" cx="204" cy="445" r="10"/>
</g>
<g id="cluster-right" class="r">
<circle id="R1" cx="476" cy="292" r="3.2"/><circle id="R2" cx="494" cy="287" r="3.2"/><circle id="R3" cx="456" cy="299" r="3.2"/><circle id="R4" cx="436" cy="305" r="3.2"/><circle id="R5" cx="528" cy="295" r="4.7"/><circle id="R6" cx="509" cy="300" r="3.2"/><circle id="R7" cx="562" cy="304" r="3.2"/><circle id="R8" cx="471" cy="312" r="3.2"/><circle id="R9" cx="490" cy="306" r="3.2"/><circle id="R10" cx="543" cy="310" r="3.2"/><circle id="R11" cx="524" cy="315" r="3.2"/><circle id="R12" cx="576" cy="319" r="4.7"/><circle id="R13" cx="451" cy="318" r="3.2"/><circle id="R14" cx="504" cy="320" r="3.2"/><circle id="R15" cx="432" cy="324" r="3.2"/><circle id="R16" cx="485" cy="326" r="3.2"/><circle id="R17" cx="538" cy="329" r="3.2"/><circle id="R18" cx="557" cy="324" r="3.2"/><circle id="R19" cx="415" cy="335" r="3.2"/><circle id="R20" cx="466" cy="331" r="3.2"/><circle id="R21" cx="519" cy="334" r="3.2"/><circle id="R22" cx="447" cy="337" r="3.2"/><circle id="R23" cx="499" cy="339" r="3.2"/><circle id="R24" cx="571" cy="338" r="3.2"/><circle id="R25" cx="480" cy="345" r="4.7"/><circle id="R26" cx="552" cy="343" r="3.2"/><circle id="R27" cx="430" cy="348" r="3.2"/><circle id="R28" cx="533" cy="348" r="3.2"/><circle id="R29" cx="457" cy="355" r="6.5"/><circle id="R30" cx="513" cy="353" r="3.2"/><circle id="R31" cx="566" cy="357" r="3.2"/><circle id="R32" cx="475" cy="364" r="7.5"/><circle id="R33" cx="420" cy="366" r="4.7"/><circle id="R34" cx="547" cy="362" r="3.2"/><circle id="R35" cx="441" cy="366" r="3.2"/><circle id="R36" cx="528" cy="368" r="3.2"/><circle id="R37" cx="489" cy="378" r="7.5"/><circle id="R38" cx="509" cy="375" r="3.2"/><circle id="R39" cx="579" cy="373" r="4.7"/><circle id="R40" cx="410" cy="382" r="3.2"/><circle id="R41" cx="430" cy="383" r="3.2"/><circle id="R42" cx="450" cy="383" r="3.2"/><circle id="R43" cx="470" cy="383" r="3.2"/><circle id="R44" cx="540" cy="383" r="5.5"/><circle id="R45" cx="560" cy="377" r="3.2"/><circle id="R46" cx="483" cy="398" r="3.2"/><circle id="R47" cx="443" cy="402" r="3.2"/><circle id="R48" cx="463" cy="402" r="3.2"/><circle id="R49" cx="423" cy="402" r="3.2"/><circle id="R50" cx="554" cy="397" r="3.2"/><circle id="R51" cx="536" cy="407" r="3.2"/><circle id="R52" cx="515" cy="410" r="3.2"/><circle id="R53" cx="414" cy="419" r="4.5"/><circle id="R54" cx="434" cy="419" r="4.5"/><circle id="R55" cx="454" cy="419" r="3.2"/><circle id="R56" cx="476" cy="417" r="3.2"/><circle id="R57" cx="496" cy="414" r="3.2"/><circle id="R58" cx="489" cy="432" r="3.2"/><circle id="R59" cx="466" cy="434" r="3.2"/><circle id="R60" cx="446" cy="437" r="3.2"/><circle id="R61" cx="512" cy="442" r="4.2"/><circle id="R62" cx="561" cy="420" r="4.7"/><circle id="R63" cx="581" cy="417" r="3.2"/><circle id="R64" cx="597" cy="380" r="3.2"/><circle id="R65" cx="612" cy="413" r="3.2"/><circle id="R66" cx="603" cy="431" r="3.2"/><circle id="R67" cx="604" cy="451" r="3.2"/><circle id="R68" cx="550" cy="462" r="3.2"/><circle id="R69" cx="569" cy="469" r="3.2"/><circle id="R70" cx="541" cy="480" r="3.2"/><circle id="R71" cx="588" cy="476" r="3.2"/><circle id="R72" cx="471" cy="470" r="3.2"/><circle id="R73" cx="490" cy="474" r="3.2"/><circle id="R74" cx="493" cy="494" r="3.2"/><circle id="R75" cx="527" cy="494" r="3.2"/><circle id="R76" cx="510" cy="504" r="3.2"/><circle id="R77" cx="405" cy="353" r="3.2"/><circle id="R78" cx="580" cy="417" r="3.2"/><circle id="R79" cx="535" cy="407" r="3.2"/>
</g>
<g id="nodes-red" class="r s"><circle id="x1" cx="291" cy="29"/><circle id="x2" cx="321" cy="93"/><circle id="x3" cx="506" cy="66"/><circle id="x4" cx="455" cy="129"/><circle id="x5" cx="511" cy="178"/><circle id="x6" cx="345" cy="612"/></g>
<g id="nodes-white" class="w s">
<circle id="w1" cx="318" cy="28"/><circle id="w2" cx="205" cy="38"/><circle id="w3" cx="303" cy="45"/><circle id="w4" cx="262" cy="56"/><circle id="w5" cx="157" cy="54"/><circle id="w6" cx="190" cy="54"/><circle id="w7" cx="179" cy="71"/><circle id="w8" cx="239" cy="67"/><circle id="w9" cx="274" cy="74"/><circle id="w10" cx="145" cy="89"/><circle id="w11" cx="184" cy="93"/><circle id="w12" cx="163" cy="97"/><circle id="w13" cx="204" cy="94"/><circle id="w14" cx="256" cy="82"/><circle id="w15" cx="300" cy="85"/><circle id="w16" cx="282" cy="92"/><circle id="w17" cx="263" cy="102"/><circle id="w18" cx="125" cy="87"/><circle id="w19" cx="97" cy="118"/><circle id="w20" cx="117" cy="117"/><circle id="w21" cx="79" cy="132"/><circle id="w22" cx="99" cy="141"/><circle id="w23" cx="76" cy="161"/><circle id="w24" cx="101" cy="161"/><circle id="w25" cx="121" cy="156"/><circle id="w26" cx="140" cy="155"/><circle id="w27" cx="159" cy="117"/><circle id="w28" cx="243" cy="117"/><circle id="w29" cx="277" cy="117"/><circle id="w30" cx="201" cy="141"/><circle id="w31" cx="223" cy="130"/><circle id="w32" cx="283" cy="136"/><circle id="w33" cx="326" cy="142"/><circle id="w34" cx="279" cy="156"/><circle id="w35" cx="182" cy="150"/><circle id="w36" cx="226" cy="154"/><circle id="w37" cx="273" cy="177"/><circle id="w38" cx="295" cy="187"/><circle id="w39" cx="301" cy="168"/><circle id="w40" cx="323" cy="208"/>
<circle id="w41" cx="425" cy="24"/><circle id="w42" cx="450" cy="33"/><circle id="w43" cx="414" cy="49"/><circle id="w44" cx="434" cy="46"/><circle id="w45" cx="469" cy="65"/><circle id="w46" cx="332" cy="75"/><circle id="w47" cx="399" cy="71"/><circle id="w48" cx="519" cy="81"/><circle id="w49" cx="538" cy="89"/><circle id="w50" cx="345" cy="89"/><circle id="w51" cx="378" cy="92"/><circle id="w52" cx="410" cy="88"/><circle id="w53" cx="521" cy="107"/><circle id="w54" cx="557" cy="101"/><circle id="w55" cx="343" cy="109"/><circle id="w56" cx="385" cy="110"/><circle id="w57" cx="426" cy="101"/><circle id="w58" cx="449" cy="110"/><circle id="w59" cx="341" cy="129"/><circle id="w60" cx="374" cy="127"/><circle id="w61" cx="397" cy="132"/><circle id="w62" cx="416" cy="123"/><circle id="w63" cx="491" cy="134"/><circle id="w64" cx="557" cy="123"/><circle id="w65" cx="575" cy="131"/><circle id="w66" cx="589" cy="146"/><circle id="w67" cx="474" cy="145"/><circle id="w68" cx="381" cy="146"/><circle id="w69" cx="422" cy="142"/><circle id="w70" cx="401" cy="157"/><circle id="w71" cx="441" cy="164"/><circle id="w72" cx="534" cy="179"/><circle id="w73" cx="555" cy="179"/><circle id="w74" cx="602" cy="169"/><circle id="w75" cx="607" cy="189"/><circle id="w76" cx="564" cy="197"/><circle id="w77" cx="619" cy="206"/><circle id="w78" cx="547" cy="218"/><circle id="w79" cx="449" cy="182"/><circle id="w80" cx="460" cy="199"/><circle id="w81" cx="363" cy="215"/><circle id="w82" cx="446" cy="214"/>
<circle id="w83" cx="311" cy="225"/><circle id="w84" cx="417" cy="230"/><circle id="w85" cx="457" cy="235"/><circle id="w86" cx="328" cy="236"/><circle id="w87" cx="349" cy="240"/><circle id="w88" cx="339" cy="262"/><circle id="w89" cx="371" cy="267"/><circle id="w90" cx="323" cy="274"/><circle id="w91" cx="353" cy="275"/><circle id="w92" cx="353" cy="301"/><circle id="w93" cx="372" cy="297"/><circle id="w94" cx="323" cy="308"/><circle id="w95" cx="342" cy="321"/><circle id="w96" cx="349" cy="377"/><circle id="w97" cx="361" cy="400"/><circle id="w98" cx="403" cy="401"/><circle id="w99" cx="361" cy="424"/><circle id="w100" cx="401" cy="438"/><circle id="w101" cx="422" cy="441"/>
<circle id="w102" cx="501" cy="236"/><circle id="w103" cx="504" cy="262"/><circle id="w104" cx="570" cy="255"/><circle id="w105" cx="589" cy="285"/><circle id="w106" cx="591" cy="223"/><circle id="w107" cx="611" cy="224"/><circle id="w108" cx="630" cy="228"/><circle id="w109" cx="599" cy="245"/><circle id="w110" cx="619" cy="244"/><circle id="w111" cx="591" cy="264"/><circle id="w112" cx="629" cy="292"/><circle id="w113" cx="618" cy="333"/><circle id="w114" cx="639" cy="334"/><circle id="w115" cx="613" cy="353"/><circle id="w116" cx="647" cy="378"/><circle id="w117" cx="613" cy="393"/><circle id="w118" cx="594" cy="400"/><circle id="w119" cx="584" cy="436"/><circle id="w120" cx="584" cy="457"/>
<circle id="w121" cx="335" cy="459"/><circle id="w122" cx="320" cy="517"/><circle id="w123" cx="339" cy="524"/><circle id="w124" cx="322" cy="546"/><circle id="w125" cx="295" cy="550"/><circle id="w126" cx="311" cy="563"/><circle id="w127" cx="361" cy="444"/><circle id="w128" cx="355" cy="463"/><circle id="w129" cx="379" cy="453"/><circle id="w130" cx="373" cy="472"/><circle id="w131" cx="399" cy="458"/><circle id="w132" cx="392" cy="477"/><circle id="w133" cx="435" cy="459"/><circle id="w134" cx="414" cy="471"/><circle id="w135" cx="408" cy="489"/><circle id="w136" cx="454" cy="496"/><circle id="w137" cx="483" cy="454"/><circle id="w138" cx="510" cy="484"/><circle id="w139" cx="441" cy="511"/><circle id="w140" cx="403" cy="509"/><circle id="w141" cx="383" cy="507"/><circle id="w142" cx="364" cy="501"/><circle id="w143" cx="356" cy="483"/><circle id="w144" cx="395" cy="529"/><circle id="w145" cx="481" cy="527"/><circle id="w146" cx="502" cy="532"/><circle id="w147" cx="558" cy="549"/><circle id="w148" cx="476" cy="570"/><circle id="w149" cx="440" cy="569"/><circle id="w150" cx="421" cy="564"/><circle id="w151" cx="435" cy="550"/><circle id="w152" cx="386" cy="593"/><circle id="w153" cx="453" cy="585"/><circle id="w154" cx="472" cy="591"/><circle id="w155" cx="491" cy="595"/><circle id="w156" cx="466" cy="610"/><circle id="w157" cx="394" cy="611"/><circle id="w158" cx="433" cy="621"/><circle id="w159" cx="366" cy="637"/>
<circle id="w160" cx="203" cy="587"/><circle id="w161" cx="243" cy="589"/><circle id="w162" cx="255" cy="607"/><circle id="w163" cx="275" cy="609"/><circle id="w164" cx="245" cy="627"/><circle id="w165" cx="269" cy="629"/><circle id="w166" cx="313" cy="636"/><circle id="w167" cx="308" cy="585"/><circle id="w168" cx="256" cy="573"/><circle id="w169" cx="19" cy="422"/><circle id="w170" cx="163" cy="249"/>
</g>
<g id="nodes-teal" class="t s">
<circle id="t1" cx="278" cy="14"/><circle id="t2" cx="320" cy="58"/><circle id="t3" cx="142" cy="127"/><circle id="t4" cx="325" cy="118"/><circle id="t5" cx="309" cy="130"/><circle id="t6" cx="320" cy="161"/><circle id="t7" cx="316" cy="189" style="r:3.4px"/><circle id="t8" cx="345" cy="26"/><circle id="t9" cx="333" cy="42"/><circle id="t10" cx="358" cy="140"/><circle id="t11" cx="346" cy="156" style="r:3.4px"/><circle id="t12" cx="497" cy="155"/><circle id="t13" cx="383" cy="166"/><circle id="t14" cx="367" cy="177"/><circle id="t15" cx="347" cy="179"/><circle id="t16" cx="465" cy="170"/><circle id="t17" cx="520" cy="202"/><circle id="t18" cx="486" cy="208"/><circle id="t19" cx="476" cy="187"/><circle id="t20" cx="430" cy="189"/><circle id="t21" cx="360" cy="196"/><circle id="t22" cx="380" cy="202"/><circle id="t23" cx="408" cy="212"/><circle id="t24" cx="343" cy="221"/><circle id="t25" cx="437" cy="232"/><circle id="t26" cx="368" cy="247"/><circle id="t27" cx="464" cy="253"/><circle id="t28" cx="391" cy="267"/><circle id="t29" cx="411" cy="269" style="r:3.4px"/><circle id="t30" cx="446" cy="281"/><circle id="t31" cx="411" cy="294"/><circle id="t32" cx="390" cy="306"/><circle id="t33" cx="396" cy="335"/><circle id="t34" cx="347" cy="346"/><circle id="t35" cx="383" cy="401"/><circle id="t36" cx="473" cy="223"/><circle id="t37" cx="517" cy="248"/><circle id="t38" cx="553" cy="266"/><circle id="t39" cx="633" cy="259"/><circle id="t40" cx="642" cy="277"/><circle id="t41" cx="648" cy="302"/><circle id="t42" cx="599" cy="338"/><circle id="t43" cx="574" cy="398"/><circle id="t44" cx="452" cy="476"/><circle id="t45" cx="446" cy="606"/><circle id="t46" cx="161" cy="584"/><circle id="t47" cx="223" cy="589"/><circle id="t48" cx="233" cy="609"/><circle id="t49" cx="326" cy="593"/>
</g>
<g id="nodes-green" class="g s">
<circle id="g1" cx="364" cy="33"/><circle id="g2" cx="455" cy="150"/><circle id="g3" cx="516" cy="159"/><circle id="g4" cx="536" cy="159"/><circle id="g5" cx="549" cy="144"/><circle id="g6" cx="561" cy="160"/><circle id="g7" cx="580" cy="164"/><circle id="g8" cx="491" cy="174"/><circle id="g9" cx="544" cy="197" style="r:4.5px"/><circle id="g10" cx="583" cy="184"/><circle id="g11" cx="588" cy="203"/><circle id="g12" cx="572" cy="216"/><circle id="g13" cx="504" cy="215"/><circle id="g14" cx="501" cy="195"/><circle id="g15" cx="519" cy="228"/><circle id="g16" cx="536" cy="240"/><circle id="g17" cx="555" cy="236"/><circle id="g18" cx="575" cy="236"/><circle id="g19" cx="570" cy="276"/><circle id="g20" cx="609" cy="290"/><circle id="g21" cx="594" cy="309"/><circle id="g22" cx="371" cy="523"/><circle id="g23" cx="507" cy="583"/><circle id="g24" cx="180" cy="589"/>
</g>
<g id="nodes-lime" class="y s">
<circle id="y1" cx="245" cy="44"/><circle id="y2" cx="159" cy="74"/><circle id="y3" cx="301" cy="65"/><circle id="y4" cx="239" cy="97"/><circle id="y5" cx="259" cy="129"/><circle id="y6" cx="299" cy="148"/><circle id="y7" cx="366" cy="13"/><circle id="y8" cx="456" cy="81"/><circle id="y9" cx="484" cy="81"/><circle id="y10" cx="466" cy="98"/><circle id="y11" cx="487" cy="104"/><circle id="y12" cx="503" cy="117"/><circle id="y13" cx="405" cy="107"/><circle id="y14" cx="436" cy="127"/><circle id="y15" cx="511" cy="138"/><circle id="y16" cx="530" cy="132"/><circle id="y17" cx="410" cy="189"/><circle id="y18" cx="390" cy="185"/><circle id="y19" cx="341" cy="200"/><circle id="y20" cx="377" cy="229"/><circle id="y21" cx="397" cy="229"/><circle id="y22" cx="388" cy="247"/><circle id="y23" cx="411" cy="249"/><circle id="y24" cx="431" cy="268"/><circle id="y25" cx="389" cy="286"/><circle id="y26" cx="406" cy="317"/><circle id="y27" cx="379" cy="324"/><circle id="y28" cx="360" cy="331"/><circle id="y29" cx="330" cy="337"/><circle id="y30" cx="377" cy="344"/><circle id="y31" cx="331" cy="358"/><circle id="y32" cx="363" cy="358"/><circle id="y33" cx="387" cy="362"/><circle id="y34" cx="369" cy="377"/><circle id="y35" cx="388" cy="382"/><circle id="y36" cx="380" cy="421"/><circle id="y37" cx="611" cy="268"/><circle id="y38" cx="644" cy="354"/><circle id="y39" cx="336" cy="503"/><circle id="y40" cx="330" cy="566"/><circle id="y41" cx="423" cy="503"/><circle id="y42" cx="588" cy="504"/><circle id="y43" cx="524" cy="535"/><circle id="y44" cx="545" cy="535"/><circle id="y45" cx="567" cy="531"/><circle id="y46" cx="484" cy="547"/><circle id="y47" cx="496" cy="565"/><circle id="y48" cx="406" cy="550"/><circle id="y49" cx="355" cy="536"/><circle id="y50" cx="409" cy="589"/><circle id="y51" cx="431" cy="591"/><circle id="y52" cx="330" cy="623"/><circle id="y53" cx="410" cy="628"/><circle id="y54" cx="194" cy="605"/><circle id="y55" cx="273" cy="584"/>
</g>
<g id="nodes-tan" class="o s">
<circle id="o1" cx="255" cy="22"/><circle id="o2" cx="231" cy="27"/><circle id="o3" cx="269" cy="37"/><circle id="o4" cx="223" cy="47"/><circle id="o5" cx="218" cy="67"/><circle id="o6" cx="175" cy="131"/><circle id="o7" cx="158" cy="144"/><circle id="o8" cx="242" cy="142"/><circle id="o9" cx="260" cy="151"/><circle id="o10" cx="384" cy="34"/><circle id="o11" cx="406" cy="30"/><circle id="o12" cx="367" cy="53"/><circle id="o13" cx="392" cy="53"/><circle id="o14" cx="447" cy="61"/><circle id="o15" cx="488" cy="57"/><circle id="o16" cx="359" cy="74"/><circle id="o17" cx="378" cy="72"/><circle id="o18" cx="540" cy="112"/><circle id="o19" cx="421" cy="163"/><circle id="o20" cx="427" cy="209"/><circle id="o21" cx="614" cy="312"/><circle id="o22" cx="633" cy="315"/><circle id="o23" cx="628" cy="366"/><circle id="o24" cx="633" cy="392"/><circle id="o25" cx="531" cy="432"/><circle id="o26" cx="494" cy="359"/><circle id="o27" cx="522" cy="392"/><circle id="o28" cx="550" cy="506"/><circle id="o29" cx="538" cy="559"/><circle id="o30" cx="521" cy="569"/><circle id="o31" cx="345" cy="553"/><circle id="o32" cx="373" cy="576"/><circle id="o33" cx="345" cy="589"/><circle id="o34" cx="387" cy="630"/><circle id="o35" cx="292" cy="636"/><circle id="o36" cx="295" cy="616"/><circle id="o37" cx="290" cy="593"/><circle id="o38" cx="65" cy="475"/><circle id="o39" cx="65" cy="508"/><circle id="o40" cx="97" cy="541"/>
</g>
<g id="nodes-blue" class="b s">
<circle id="b1" cx="306" cy="13"/><circle id="b2" cx="133" cy="105"/><circle id="b3" cx="201" cy="121"/><circle id="b4" cx="471" cy="45"/><circle id="b5" cx="423" cy="69"/><circle id="b6" cx="437" cy="84"/><circle id="b7" cx="502" cy="92"/><circle id="b8" cx="634" cy="415"/><circle id="b9" cx="624" cy="444"/><circle id="b10" cx="569" cy="511"/><circle id="b11" cx="439" cy="531"/><circle id="b12" cx="364" cy="597"/><circle id="b13" cx="18" cy="350"/>
</g>
<g id="nodes-purple" class="p s">
<circle id="p1" cx="222" cy="86"/><circle id="p2" cx="124" cy="136"/><circle id="p3" cx="346" cy="58"/><circle id="p4" cx="335" cy="292"/><circle id="p5" cx="565" cy="449"/><circle id="p6" cx="506" cy="461"/><circle id="p7" cx="524" cy="469"/><circle id="p8" cx="562" cy="490"/><circle id="p9" cx="531" cy="513"/><circle id="p10" cx="473" cy="490"/><circle id="p11" cx="432" cy="480"/><circle id="p12" cx="415" cy="528" style="r:3.4px"/><circle id="p13" cx="459" cy="534"/><circle id="p14" cx="373" cy="543"/><circle id="p15" cx="385" cy="560"/><circle id="p16" cx="402" cy="571"/><circle id="p17" cx="313" cy="609"/><circle id="p18" cx="343" cy="636"/>
</g>
<g id="nodes-magenta" class="m s">
<circle id="m1" cx="199" cy="72"/><circle id="m2" cx="333" cy="10"/><circle id="m3" cx="391" cy="16"/><circle id="m4" cx="473" cy="120"/><circle id="m5" cx="485" cy="247"/><circle id="m6" cx="550" cy="437"/><circle id="m7" cx="533" cy="452"/><circle id="m8" cx="608" cy="479"/><circle id="m9" cx="417" cy="608"/><circle id="m10" cx="367" cy="617"/>
</g>
<g id="nodes-sky" class="l s">
<circle id="l1" cx="284" cy="55"/><circle id="l2" cx="182" cy="113"/><circle id="l3" cx="219" cy="110"/><circle id="l4" cx="300" cy="107"/><circle id="l5" cx="363" cy="108"/><circle id="l6" cx="465" cy="515"/><circle id="l7" cx="511" cy="550"/><circle id="l8" cx="461" cy="557"/><circle id="l9" cx="354" cy="571"/><circle id="l10" cx="284" cy="567"/><circle id="l11" cx="25" cy="369"/>
</g>
</svg>
